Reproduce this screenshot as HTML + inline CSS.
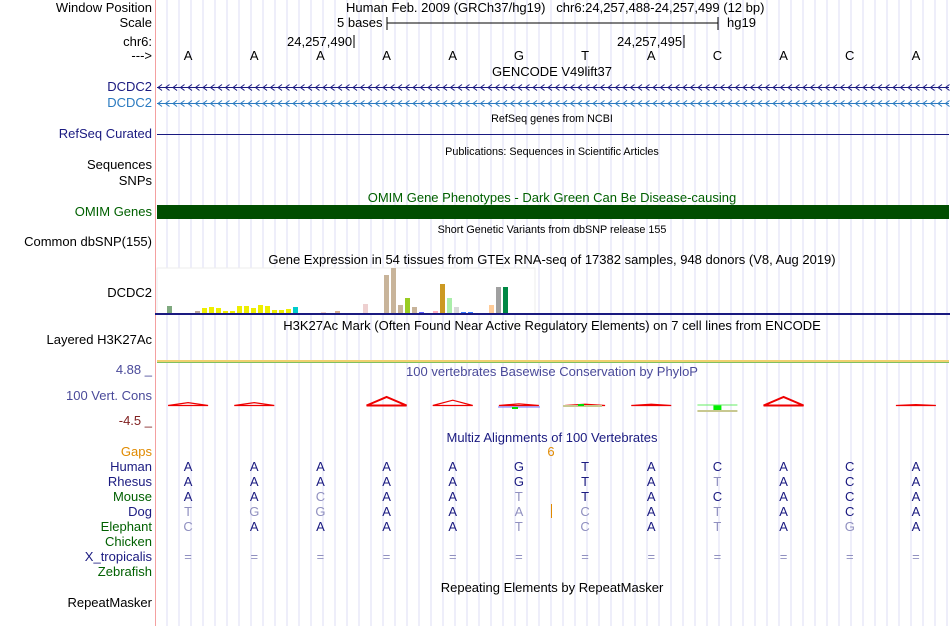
<!DOCTYPE html>
<html><head><meta charset="utf-8">
<style>
body{margin:0;width:950px;height:626px;background:#fff;overflow:hidden;font-family:"Liberation Sans",sans-serif;position:relative}
.t{position:absolute;font-size:13px;line-height:14px;white-space:nowrap}
.l{position:absolute;right:798px;font-size:13px;line-height:14px;white-space:nowrap;text-align:right}
.s{font-size:10.8px}
.c{transform:translateX(-50%)}
</style></head><body>
<svg id="bg" width="950" height="626" style="position:absolute;left:0;top:0"></svg>

<div class="l" style="top:1px">Window Position</div>
<div class="l" style="top:16px">Scale</div>
<div class="l" style="top:35px">chr6:</div>
<div class="l" style="top:49px">---&gt;</div>
<div class="l" style="top:80px;color:#1a1a80">DCDC2</div>
<div class="l" style="top:96px;color:#2a7ac0">DCDC2</div>
<div class="l" style="top:127px;color:#1a1a80">RefSeq Curated</div>
<div class="l" style="top:158px">Sequences</div>
<div class="l" style="top:174px">SNPs</div>
<div class="l" style="top:205px;color:#006000">OMIM Genes</div>
<div class="l" style="top:235px">Common dbSNP(155)</div>
<div class="l" style="top:286px">DCDC2</div>
<div class="l" style="top:333px">Layered H3K27Ac</div>
<div class="l" style="top:363px;color:#4a4a9a">4.88 _</div>
<div class="l" style="top:389px;color:#4a4a9a">100 Vert. Cons</div>
<div class="l" style="top:414px;color:#802020">-4.5 _</div>
<div class="l" style="top:445px;color:#e08a00">Gaps</div>
<div class="l" style="top:460px;color:#1a1a80">Human</div>
<div class="l" style="top:475px;color:#1a1a80">Rhesus</div>
<div class="l" style="top:490px;color:#006000">Mouse</div>
<div class="l" style="top:505px;color:#1a1a80">Dog</div>
<div class="l" style="top:520px;color:#006000">Elephant</div>
<div class="l" style="top:535px;color:#006000">Chicken</div>
<div class="l" style="top:550px;color:#1a1a80">X_tropicalis</div>
<div class="l" style="top:565px;color:#006000">Zebrafish</div>
<div class="l" style="top:596px">RepeatMasker</div>

<div class="t" style="left:346px;top:1px">Human Feb. 2009 (GRCh37/hg19)&nbsp;&nbsp;&nbsp;chr6:24,257,488-24,257,499 (12 bp)</div>
<div class="t" style="left:337px;top:16px">5 bases</div>
<div class="t" style="left:727px;top:16px">hg19</div>
<div class="t" style="left:287px;top:35px">24,257,490</div>
<div class="t" style="left:617px;top:35px">24,257,495</div>
<div class="t c" style="left:552px;top:65px">GENCODE V49lift37</div>
<div class="t s c" style="left:552px;top:112px">RefSeq genes from NCBI</div>
<div class="t s c" style="left:552px;top:145px">Publications: Sequences in Scientific Articles</div>
<div class="t c" style="left:552px;top:191px;color:#006000">OMIM Gene Phenotypes - Dark Green Can Be Disease-causing</div>
<div class="t s c" style="left:552px;top:223px">Short Genetic Variants from dbSNP release 155</div>
<div class="t c" style="left:552px;top:253px">Gene Expression in 54 tissues from GTEx RNA-seq of 17382 samples, 948 donors (V8, Aug 2019)</div>
<div class="t c" style="left:552px;top:319px">H3K27Ac Mark (Often Found Near Active Regulatory Elements) on 7 cell lines from ENCODE</div>
<div class="t c" style="left:552px;top:365px;color:#4a4a9a">100 vertebrates Basewise Conservation by PhyloP</div>
<div class="t c" style="left:552px;top:431px;color:#1a1a80">Multiz Alignments of 100 Vertebrates</div>
<div class="t c" style="left:551px;top:445px;color:#e08a00">6</div>
<div class="t c" style="left:552px;top:581px">Repeating Elements by RepeatMasker</div>
<div id="txt"></div>

<script>
const bases=["A","A","A","A","A","G","T","A","C","A","C","A"];
const rhesus=["A","A","A","A","A","G","T","A","T","A","C","A"];
const mouse=["A","A","C","A","A","T","T","A","C","A","C","A"];
const dog=["T","G","G","A","A","A","C","A","T","A","C","A"];
const elephant=["C","A","A","A","A","T","C","A","T","A","G","A"];
const gtexValues=[7,0,0,0,2,5,6,5,2,2,7,7,5,8,7,3,3,4,6,0,0,0,1,0,2,0,0,0,9,0,0,38,45,8,15,6,1,0,2,29,15,6,1,1,0,0,8,26,26,0,0,0,0,0];
const gtexColors=["#7fa97f","#ccc","#ccc","#ccc","#bca89a","#eeee00","#eeee00","#eeee00","#eeee00","#eeee00","#eeee00","#eeee00","#eeee00","#eeee00","#eeee00","#eeee00","#eeee00","#eeee00","#00cccc","#ddd","#ddd","#ddd","#f0d0c8","#ddd","#d8b090","#ddd","#ddd","#ddd","#eed0d0","#ddd","#ddd","#c8b49a","#c8b49a","#c8b49a","#99cc22","#c8b49a","#6060ff","#ddd","#ffb0c0","#cc9922","#aaeeaa","#d8d8d8","#3377ff","#3377ff","#ddd","#ddd","#ffcc99","#a0a0a0","#008844","#ddd","#ddd","#ddd","#ddd","#ddd"];
const phylop=[0.6,0.6,0,2,1.2,0.3,0.2,0.2,-1.0,2,0,0.1];

const NS="http://www.w3.org/2000/svg";
const svg=document.getElementById('bg');
const x0=155,x1=949,bw=(x1-x0)/12;
const bx=i=>x0+bw*(i+0.5);
function el(tag,a){const e=document.createElementNS(NS,tag);for(const k in a)e.setAttribute(k,a[k]);svg.appendChild(e);return e;}
for(let x=x0+12;x<x1;x+=12){const g=el('line',{x1:x,y1:0,x2:x,y2:626,stroke:'#dcdcf4','stroke-width':1});}
const sep=el('line',{x1:155.5,y1:0,x2:155.5,y2:626,stroke:'#f4a0a0'});
el('line',{x1:387,y1:23,x2:718,y2:23,stroke:'#000'});el('line',{x1:387,y1:17,x2:387,y2:30,stroke:'#000'});el('line',{x1:718,y1:17,x2:718,y2:30,stroke:'#000'});
el('line',{x1:354,y1:35,x2:354,y2:48,stroke:'#000'});el('line',{x1:684,y1:35,x2:684,y2:48,stroke:'#000'});
function geneLine(y,c,name){const g=el('line',{x1:157,y1:y,x2:949,y2:y,stroke:c});
 for(let x=158;x<949;x+=7.5){el('polyline',{points:`${x+4},${y-3} ${x},${y} ${x+4},${y+3}`,fill:'none',stroke:c});}}
geneLine(87.5,'#1a1a80','gencode-dcdc2-gene');geneLine(103.5,'#2a7ac0','gencode-dcdc2-gene-2');
const rs=el('line',{x1:157,y1:134.5,x2:949,y2:134.5,stroke:'#1a1a80'});
const om=el('rect',{x:157,y:205,width:792,height:14,fill:'#004d00'});
el('rect',{x:157,y:268,width:378,height:46,fill:'#fff',stroke:'#eee'});
const gy=v=>313-v;
gtexValues.forEach((v,i)=>{if(v<=0)return;const r=el('rect',{x:167+i*7,y:gy(v),width:5,height:v,fill:gtexColors[i]});});
el('rect',{x:155,y:313,width:795,height:2,fill:'#1a1a80'});
el('rect',{x:157,y:360,width:792,height:2,fill:'#f0d070'});el('rect',{x:157,y:362,width:792,height:1,fill:'#80c060'});
const py=v=>405-v*4;
phylop.forEach((v,i)=>{const cx=bx(i);
 if(v>0){const p=el('polygon',{points:`${cx-20},${405.5} ${cx},${py(v)} ${cx+20},${405.5}`,fill:'none',stroke:'#ee0000','stroke-width':v>1.5?2:1.2});}
 else if(v<0){const r=el('rect',{x:cx-4,y:405,width:8,height:-v*6,fill:'#00ee00'});el('line',{x1:cx-20,y1:405,x2:cx+20,y2:405,stroke:'#66ee66'});el('line',{x1:cx-20,y1:411,x2:cx+20,y2:411,stroke:'#c8c890','stroke-width':2});}
});
el('line',{x1:498,y1:407,x2:540,y2:407,stroke:'#7070ff'});el('rect',{x:512,y:407,width:6,height:2,fill:'#00dd00'});
el('line',{x1:563,y1:406,x2:602,y2:406,stroke:'#c8c890','stroke-width':2});el('rect',{x:578,y:404,width:6,height:2,fill:'#00dd00'});
el('line',{x1:551.5,y1:504,x2:551.5,y2:518,stroke:'#e08a00'});
const txt=document.getElementById('txt');
function row(arr,ref,top,name,plain){arr.forEach((b,i)=>{const d=document.createElement('div');d.className='t c';d.style.left=bx(i)+'px';d.style.top=top+'px';
 d.style.color=plain?'#000':(ref&&ref[i]!==b?'#9090c0':'#1a1a80');d.textContent=b;
 txt.appendChild(d);});}
row(bases,null,49,'base-letter',true);
row(bases,null,460,'human-base');
row(rhesus,bases,475,'rhesus-base');
row(mouse,bases,490,'mouse-base');
row(dog,bases,505,'dog-base');
row(elephant,bases,520,'elephant-base');
bases.forEach((b,i)=>{const d=document.createElement('div');d.className='t c';d.style.left=bx(i)+'px';d.style.top='550px';d.style.color='#9090c0';d.textContent='=';
 
 txt.appendChild(d);});
</script>
</body></html>
